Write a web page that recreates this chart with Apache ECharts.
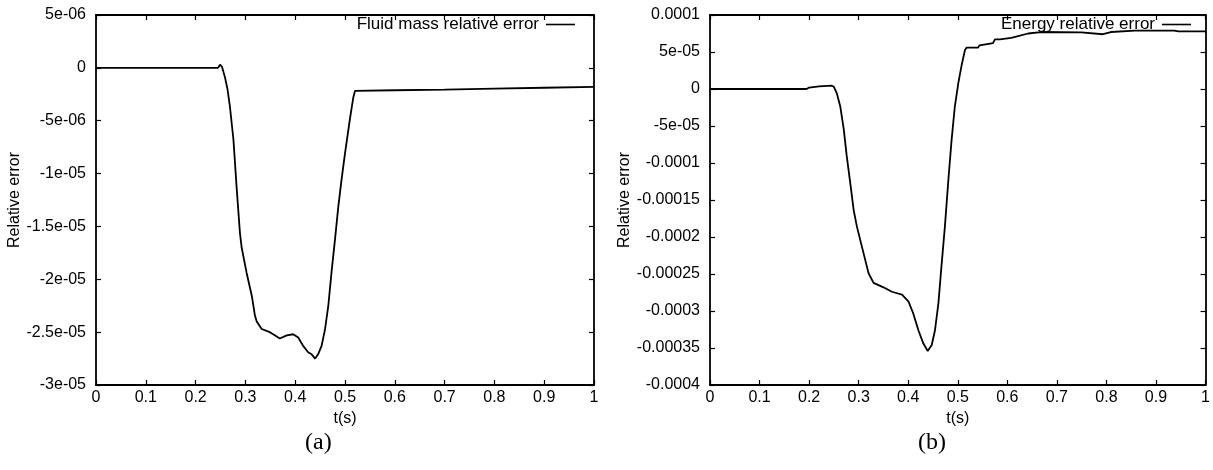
<!DOCTYPE html>
<html>
<head>
<meta charset="utf-8">
<script src="https://cdn.jsdelivr.net/npm/echarts@6/dist/echarts.min.js"></script>
<style>
html,body{margin:0;padding:0;background:#fff;}
#chart{width:1213px;height:470px;}
</style>
</head>
<body>
<div id="chart"></div>
<script>
// ---- data: panel (a) fluid mass relative error ----
var massT = [0, 0.1, 0.2, 0.245, 0.249, 0.253, 0.259, 0.264, 0.269, 0.276, 0.2825, 0.289, 0.2925, 0.3025, 0.313, 0.319, 0.3227, 0.3327, 0.349, 0.359, 0.369, 0.383, 0.396, 0.406, 0.416, 0.426, 0.433, 0.44, 0.446, 0.453, 0.46, 0.4665, 0.473, 0.48, 0.4866, 0.493, 0.5, 0.51, 0.5167, 0.52, 0.6, 0.7, 0.8, 0.9, 1.0];
var massErr = [0, 0, 0, 0, 0.3e-6, 0.1e-6, -0.9e-6, -2.0e-6, -3.7e-6, -6.8e-6, -11.4e-6, -15.6e-6, -17.0e-6, -19.4e-6, -21.6e-6, -23.4e-6, -24.0e-6, -24.7e-6, -25.0e-6, -25.3e-6, -25.6e-6, -25.3e-6, -25.2e-6, -25.5e-6, -26.3e-6, -26.9e-6, -27.1e-6, -27.5e-6, -27.1e-6, -26.3e-6, -24.7e-6, -22.5e-6, -19.3e-6, -16.2e-6, -13.1e-6, -10.6e-6, -8.1e-6, -4.8e-6, -2.8e-6, -2.18e-6, -2.12e-6, -2.05e-6, -1.97e-6, -1.88e-6, -1.8e-6];

// ---- data: panel (b) energy relative error ----
var energyT = [0, 0.1, 0.195, 0.2, 0.22, 0.245, 0.25, 0.256, 0.263, 0.27, 0.276, 0.283, 0.29, 0.2965, 0.3065, 0.3166, 0.32, 0.33, 0.35, 0.367, 0.3874, 0.4004, 0.41, 0.4205, 0.4306, 0.4393, 0.4475, 0.454, 0.461, 0.467, 0.474, 0.481, 0.4875, 0.494, 0.501, 0.5077, 0.5145, 0.518, 0.541, 0.544, 0.571, 0.575, 0.585, 0.608, 0.642, 0.668, 0.749, 0.793, 0.809, 0.857, 0.937, 0.945, 1.0];
var energyErr = [0, 0, 0, 0.2e-5, 0.35e-5, 0.45e-5, 0.3e-5, -0.6e-5, -2.4e-5, -5.5e-5, -9.1e-5, -12.7e-5, -16.4e-5, -18.6e-5, -21.3e-5, -24.0e-5, -24.9e-5, -26.2e-5, -26.8e-5, -27.4e-5, -27.8e-5, -28.7e-5, -30.3e-5, -32.6e-5, -34.4e-5, -35.4e-5, -34.6e-5, -32.6e-5, -28.9e-5, -24.0e-5, -18.6e-5, -12.3e-5, -6.9e-5, -2.4e-5, 0.77e-5, 3.2e-5, 5.27e-5, 5.6e-5, 5.6e-5, 5.9e-5, 6.2e-5, 6.7e-5, 6.7e-5, 6.9e-5, 7.5e-5, 7.7e-5, 7.65e-5, 7.4e-5, 7.7e-5, 7.9e-5, 7.9e-5, 7.8e-5, 7.8e-5];

// ---- axes ----
var xTicks = {min: 0, max: 1, interval: 0.1};
var yTicksA = {min: -3e-5, max: 5e-6, interval: 5e-6};
var yTicksB = {min: -4e-4, max: 1e-4, interval: 5e-5};

var seriesNameA = 'Fluid mass relative error';
var seriesNameB = 'Energy relative error';
var xName = 't(s)';
var yName = 'Relative error';
var panelLabels = ['(a)', '(b)'];

function gfmt(v) {
  if (Math.abs(v) < 1e-15) return '0';
  var p = Number(v.toPrecision(6));
  var e = Math.floor(Math.log10(Math.abs(p)) + 1e-9);
  if (e < -4) {
    return p.toExponential().replace(/e([+-])(\d+)$/, function (m, s, d) {
      return 'e' + s + (d.length < 2 ? '0' + d : d);
    });
  }
  return String(p);
}

function zip(a, b) { return a.map(function (t, i) { return [t, b[i]]; }); }

var FONT = 'Liberation Sans';
var lineCol = '#000';
var frameW = 1.8;

function mainX(gi) {
  return {
    type: 'value', gridIndex: gi, min: xTicks.min, max: xTicks.max, interval: xTicks.interval,
    name: xName, nameLocation: 'middle', nameGap: 21,
    nameTextStyle: {fontFamily: FONT, fontSize: 16, color: '#000'},
    axisLine: {show: true, onZero: false, lineStyle: {color: lineCol, width: frameW}},
    axisTick: {show: true, inside: true, length: 5, lineStyle: {color: lineCol, width: 1.2}},
    axisLabel: {fontFamily: FONT, fontSize: 16, color: '#000', margin: 5, formatter: gfmt},
    splitLine: {show: false}
  };
}
function mirrorX(gi) {
  return {
    type: 'value', gridIndex: gi, position: 'top', min: xTicks.min, max: xTicks.max, interval: xTicks.interval,
    axisLine: {show: true, onZero: false, lineStyle: {color: lineCol, width: frameW}},
    axisTick: {show: true, inside: true, length: 5, lineStyle: {color: lineCol, width: 1.2}},
    axisLabel: {show: false}, splitLine: {show: false}
  };
}
function mainY(gi, t) {
  return {
    type: 'value', gridIndex: gi, min: t.min, max: t.max, interval: t.interval,
    name: yName, nameLocation: 'middle', nameGap: 70, nameRotate: 90,
    nameTextStyle: {fontFamily: FONT, fontSize: 16, color: '#000'},
    axisLine: {show: true, onZero: false, lineStyle: {color: lineCol, width: frameW}},
    axisTick: {show: true, inside: true, length: 5, lineStyle: {color: lineCol, width: 1.2}},
    axisLabel: {fontFamily: FONT, fontSize: 16, color: '#000', margin: 10, formatter: gfmt},
    splitLine: {show: false}
  };
}
function mirrorY(gi, t) {
  return {
    type: 'value', gridIndex: gi, position: 'right', min: t.min, max: t.max, interval: t.interval,
    axisLine: {show: true, onZero: false, lineStyle: {color: lineCol, width: frameW}},
    axisTick: {show: true, inside: true, length: 5, lineStyle: {color: lineCol, width: 1.2}},
    axisLabel: {show: false}, splitLine: {show: false}
  };
}
function legendFor(name, right) {
  return {
    data: [name], right: right, top: 16, align: 'right', orient: 'horizontal',
    icon: 'rect', itemWidth: 29, itemHeight: 1.6, itemGap: 0,
    padding: 0,
    textStyle: {fontFamily: FONT, fontSize: 17, color: '#000', padding: [0, 2, 0, 0]},
    selectedMode: false
  };
}

var chart = echarts.init(document.getElementById('chart'), null, {renderer: 'canvas'});
chart.setOption({
  animation: false,
  backgroundColor: '#fff',
  grid: [
    {left: 96, top: 15, width: 498, height: 370, containLabel: false},
    {left: 710, top: 15, width: 497, height: 370, containLabel: false}
  ],
  xAxis: [mainX(0), mirrorX(0), mainX(1), mirrorX(1)],
  yAxis: [mainY(0, yTicksA), mirrorY(0, yTicksA), mainY(1, yTicksB), mirrorY(1, yTicksB)],
  legend: [legendFor(seriesNameA, 638), legendFor(seriesNameB, 22)],
  series: [
    {name: seriesNameA, type: 'line', xAxisIndex: 0, yAxisIndex: 0, data: zip(massT, massErr),
     symbol: 'none', showSymbol: false, lineStyle: {color: '#000', width: 1.8}, itemStyle: {color: '#000'}},
    {name: seriesNameB, type: 'line', xAxisIndex: 2, yAxisIndex: 2, data: zip(energyT, energyErr),
     symbol: 'none', showSymbol: false, lineStyle: {color: '#000', width: 1.8}, itemStyle: {color: '#000'}}
  ],
  graphic: [
    {type: 'text', left: 305, top: 431, style: {text: panelLabels[0], font: '24px "Liberation Serif"', fill: '#000'}},
    {type: 'text', left: 918, top: 431, style: {text: panelLabels[1], font: '24px "Liberation Serif"', fill: '#000'}}
  ]
});
</script>
</body>
</html>
